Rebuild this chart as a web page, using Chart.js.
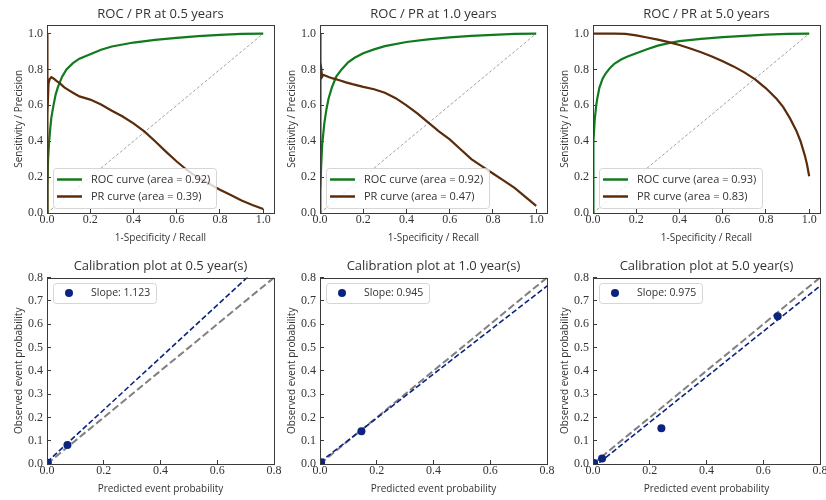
<!DOCTYPE html>
<html><head><meta charset="utf-8">
<script src="https://cdn.jsdelivr.net/npm/chart.js@4/dist/chart.umd.min.js"></script>
<style>
html,body{margin:0;padding:0;background:#fff;overflow:hidden;width:826px;height:500px}
#wrap{position:relative;width:826px;height:500px;overflow:hidden}
canvas{position:absolute}
</style></head>
<body><div id="wrap"></div>
<script>
// ---------------- data ----------------
const horizons = ['0.5', '1.0', '5.0'];
const rocAuc = ['0.92', '0.92', '0.93'];
const prAuc = ['0.39', '0.47', '0.83'];

const rocFpr05 = [0, 0.002, 0.005, 0.01, 0.015, 0.02, 0.03, 0.04, 0.05, 0.07, 0.09, 0.12, 0.15, 0.2, 0.25, 0.3, 0.4, 0.5, 0.6, 0.7, 0.8, 0.9, 1.0];
const rocTpr05 = [0, 0.15, 0.3, 0.4, 0.47, 0.53, 0.6, 0.66, 0.7, 0.76, 0.8, 0.835, 0.86, 0.885, 0.91, 0.928, 0.95, 0.965, 0.976, 0.986, 0.993, 0.998, 1.0];
const rocFpr10 = [0, 0.002, 0.005, 0.01, 0.02, 0.03, 0.04, 0.055, 0.075, 0.1, 0.13, 0.16, 0.2, 0.25, 0.3, 0.4, 0.5, 0.6, 0.7, 0.8, 0.9, 1.0];
const rocTpr10 = [0, 0.12, 0.25, 0.38, 0.5, 0.58, 0.64, 0.7, 0.76, 0.8, 0.84, 0.865, 0.89, 0.912, 0.93, 0.953, 0.968, 0.979, 0.987, 0.993, 0.998, 1.0];
const rocFpr50 = [0, 0.001, 0.003, 0.008, 0.015, 0.02, 0.03, 0.045, 0.06, 0.08, 0.1, 0.13, 0.16, 0.2, 0.25, 0.3, 0.35, 0.4, 0.5, 0.6, 0.7, 0.8, 0.9, 1.0];
const rocTpr50 = [0, 0.2, 0.4, 0.52, 0.6, 0.64, 0.7, 0.75, 0.78, 0.81, 0.833, 0.855, 0.872, 0.89, 0.913, 0.933, 0.947, 0.958, 0.97, 0.98, 0.987, 0.994, 0.998, 1.0];

const prRecall05 = [0, 0, 0.004, 0.007, 0.012, 0.02, 0.03, 0.045, 0.06, 0.08, 0.1, 0.12, 0.15, 0.2, 0.25, 0.3, 0.35, 0.4, 0.45, 0.5, 0.55, 0.6, 0.65, 0.7, 0.75, 0.8, 0.85, 0.9, 0.95, 1.0];
const prPrecision05 = [1.0, 0.0, 0.55, 0.72, 0.745, 0.757, 0.75, 0.735, 0.722, 0.7, 0.685, 0.67, 0.65, 0.632, 0.605, 0.57, 0.538, 0.5, 0.455, 0.4, 0.342, 0.287, 0.237, 0.196, 0.163, 0.13, 0.1, 0.07, 0.045, 0.022];
const prRecall10 = [0, 0, 0.002, 0.004, 0.007, 0.01, 0.015, 0.023, 0.04, 0.06, 0.09, 0.12, 0.15, 0.2, 0.25, 0.3, 0.35, 0.4, 0.45, 0.5, 0.55, 0.6, 0.65, 0.7, 0.75, 0.8, 0.85, 0.9, 0.95, 1.0];
const prPrecision10 = [1.0, 0.36, 0.8, 0.74, 0.79, 0.76, 0.77, 0.766, 0.758, 0.75, 0.74, 0.728, 0.718, 0.703, 0.69, 0.67, 0.64, 0.6, 0.555, 0.505, 0.455, 0.41, 0.355, 0.3, 0.26, 0.22, 0.18, 0.14, 0.09, 0.04];
const prRecall50 = [0, 0.05, 0.1, 0.15, 0.2, 0.25, 0.3, 0.35, 0.4, 0.45, 0.5, 0.55, 0.6, 0.65, 0.7, 0.75, 0.8, 0.85, 0.88, 0.91, 0.94, 0.96, 0.98, 0.99, 1.0];
const prPrecision50 = [1.0, 1.0, 1.0, 0.998, 0.99, 0.978, 0.966, 0.952, 0.936, 0.917, 0.896, 0.872, 0.846, 0.817, 0.784, 0.745, 0.695, 0.635, 0.59, 0.53, 0.46, 0.4, 0.32, 0.27, 0.205];

const calSlope = [1.123, 0.945, 0.975];
const calIntercept = [0.008, 0.008, -0.016];
const calPred05 = [0.003, 0.072];
const calObs05 = [0.005, 0.082];
const calPred10 = [0.004, 0.146];
const calObs10 = [0.007, 0.141];
const calPred50 = [0.004, 0.032, 0.241, 0.651];
const calObs50 = [0.004, 0.024, 0.153, 0.634];

const diagRef = [0, 1];
const rocTicks = [0, 0.2, 0.4, 0.6, 0.8, 1.0];
const calXTicks = [0, 0.2, 0.4, 0.6, 0.8];
const calYTicks = [0, 0.1, 0.2, 0.3, 0.4, 0.5, 0.6, 0.7, 0.8];

const rocFpr = [rocFpr05, rocFpr10, rocFpr50];
const rocTpr = [rocTpr05, rocTpr10, rocTpr50];
const prRecall = [prRecall05, prRecall10, prRecall50];
const prPrecision = [prPrecision05, prPrecision10, prPrecision50];
const calPred = [calPred05, calPred10, calPred50];
const calObs = [calObs05, calObs10, calObs50];

// ---------------- style ----------------
const sansFont = "'Open Sans', 'DejaVu Sans', sans-serif";
const serifFont = "'Liberation Serif', 'DejaVu Serif', serif";
const textColor = '#333333';
const green = '#127a1e';
const brown = '#5b2c0b';
const navy = '#0c2480';

Chart.defaults.font.family = sansFont;
Chart.defaults.color = textColor;

function pts(xs, ys) { return xs.map((x, i) => ({x: x, y: ys[i]})); }

function roundRectPath(ctx, x, y, w, h, r) {
  ctx.moveTo(x + r, y);
  ctx.lineTo(x + w - r, y); ctx.arcTo(x + w, y, x + w, y + r, r);
  ctx.lineTo(x + w, y + h - r); ctx.arcTo(x + w, y + h, x + w - r, y + h, r);
  ctx.lineTo(x + r, y + h); ctx.arcTo(x, y + h, x, y + h - r, r);
  ctx.lineTo(x, y + r); ctx.arcTo(x, y, x + r, y, r);
  ctx.closePath();
}

const framePlugin = {
  id: 'frame',
  afterDatasetsDraw(chart) {
    const {ctx, chartArea: a} = chart;
    ctx.save();
    ctx.strokeStyle = '#3a3a3a';
    ctx.lineWidth = 1;
    ctx.strokeRect(Math.round(a.left) + 0.5, Math.round(a.top) + 0.5,
      Math.round(a.right - a.left), Math.round(a.bottom - a.top));
    ctx.restore();
  }
};

const legendPlugin = {
  id: 'boxLegend',
  afterDatasetsDraw(chart, args, opts) {
    const items = chart.data.datasets.filter(d => d.legendRank !== undefined)
      .sort((p, q) => p.legendRank - q.legendRank);
    if (!items.length) return;
    const {ctx, chartArea: a} = chart;
    ctx.save();
    ctx.font = opts.fontSize + 'px ' + sansFont;
    const rowH = 17;
    const tw = Math.max.apply(null, items.map(d => ctx.measureText(d.label).width));
    const w = Math.round(38 + tw + 6);
    const h = Math.round(items.length * rowH + 2 * opts.padY);
    const x0 = Math.round(a.left) + 6;
    const y0 = opts.corner === 'lower' ? Math.round(a.bottom) - 5 - h : Math.round(a.top) + 5;
    ctx.beginPath();
    roundRectPath(ctx, x0 + 0.5, y0 + 0.5, w, h, 3);
    ctx.fillStyle = 'rgba(255,255,255,0.8)';
    ctx.fill();
    ctx.strokeStyle = 'rgba(204,204,204,0.8)';
    ctx.lineWidth = 1;
    ctx.stroke();
    items.forEach((d, i) => {
      const cy = y0 + opts.padY + rowH / 2 + i * rowH;
      if (d.legendKind === 'dot') {
        ctx.beginPath();
        ctx.arc(x0 + 16, cy, 4, 0, 2 * Math.PI);
        ctx.fillStyle = d.backgroundColor;
        ctx.fill();
      } else {
        ctx.beginPath();
        ctx.moveTo(x0 + 4, cy); ctx.lineTo(x0 + 29, cy);
        ctx.strokeStyle = d.borderColor;
        ctx.lineWidth = d.borderWidth + 0.3;
        ctx.stroke();
      }
      ctx.fillStyle = textColor;
      ctx.textBaseline = 'middle';
      ctx.textAlign = 'left';
      ctx.fillText(d.label, x0 + 38, cy);
    });
    ctx.restore();
  }
};

function axis(pos, max, ticks, title, size, titlePad) {
  return {
    type: 'linear', position: pos, min: 0, max: max,
    afterBuildTicks: s => { s.ticks = ticks.map(v => ({value: v})); },
    afterFit: s => { if (pos === 'left') s.width = size; else s.height = size; },
    ticks: {
      autoSkip: false, maxRotation: 0, minRotation: 0,
      padding: pos === 'left' ? 8 : 4,
      color: textColor,
      font: {family: serifFont, size: 12},
      callback: v => Number(v).toFixed(1)
    },
    grid: {drawOnChartArea: false, drawTicks: true, tickLength: -4, color: '#3a3a3a', lineWidth: 1},
    border: {display: false},
    title: {display: true, text: title, color: textColor, font: {family: sansFont, size: 10}, padding: titlePad}
  };
}

function addCanvas(left, top, w, h) {
  const c = document.createElement('canvas');
  c.width = w; c.height = h;
  c.style.left = left + 'px'; c.style.top = top + 'px';
  c.style.width = w + 'px'; c.style.height = h + 'px';
  document.getElementById('wrap').appendChild(c);
  return c;
}

const colLeft = [0, 273, 546];
const CW = 290, CH = 250;

function baseOptions(titleText, titlePad, xAxis, yAxis, legendOpts) {
  return {
    responsive: false, animation: false, devicePixelRatio: 1,
    layout: {padding: {left: 0, right: 16, top: 0, bottom: 0}},
    scales: {x: xAxis, y: yAxis},
    plugins: {
      legend: {display: false},
      tooltip: {enabled: false},
      title: {display: true, text: titleText, fullSize: false, color: textColor,
        font: {family: sansFont, size: 13, weight: 'normal'}, padding: titlePad},
      boxLegend: legendOpts
    }
  };
}

// ---------------- ROC / PR row ----------------
horizons.forEach((hz, i) => {
  const c = addCanvas(colLeft[i], 0, CW, CH);
  new Chart(c, {
    type: 'scatter',
    data: {datasets: [
      {label: 'PR curve (area = ' + prAuc[i] + ')', data: pts(prRecall[i], prPrecision[i]),
        borderColor: brown, backgroundColor: brown, borderWidth: 2.2, pointRadius: 0, showLine: true,
        order: 1, legendRank: 2, legendKind: 'line'},
      {label: 'ROC curve (area = ' + rocAuc[i] + ')', data: pts(rocFpr[i], rocTpr[i]),
        borderColor: green, backgroundColor: green, borderWidth: 2.2, pointRadius: 0, showLine: true,
        order: 2, legendRank: 1, legendKind: 'line'},
      {label: 'chance', data: pts(diagRef, diagRef), borderColor: '#8a8a8a', borderWidth: 0.8,
        borderDash: [3, 2], pointRadius: 0, showLine: true, order: 3}
    ]},
    options: baseOptions('ROC / PR at ' + hz + ' years', {top: 6, bottom: 3},
      axis('bottom', 1.05, rocTicks, '1-Specificity / Recall', 37, {top: 0, bottom: 6}),
      axis('left', 1.05, rocTicks, 'Sensitivity / Precision', 47, {top: 13, bottom: 0}),
      {corner: 'lower', padY: 3, fontSize: 11}),
    plugins: [framePlugin, legendPlugin]
  });
});

// ---------------- Calibration row ----------------
horizons.forEach((hz, i) => {
  const c = addCanvas(colLeft[i], 250, CW, CH);
  new Chart(c, {
    type: 'scatter',
    data: {datasets: [
      {label: 'Slope: ' + calSlope[i].toFixed(3), data: pts(calPred[i], calObs[i]),
        borderColor: navy, backgroundColor: navy, pointRadius: 4, pointBorderWidth: 0, showLine: false,
        order: 1, legendRank: 1, legendKind: 'dot'},
      {label: 'fit', data: diagRef.map(x => ({x: x, y: calIntercept[i] + calSlope[i] * x})),
        borderColor: navy, borderWidth: 1.6, borderDash: [5.5, 2.6], pointRadius: 0, showLine: true, order: 2},
      {label: 'ideal', data: pts(diagRef, diagRef), borderColor: '#808080', borderWidth: 2,
        borderDash: [7.4, 3.2], pointRadius: 0, showLine: true, order: 3}
    ]},
    options: baseOptions('Calibration plot at ' + hz + ' year(s)', {top: 8, bottom: 4},
      axis('bottom', 0.8, calXTicks, 'Predicted event probability', 36, {top: 0, bottom: 5}),
      axis('left', 0.8, calYTicks, 'Observed event probability', 47, {top: 13, bottom: 0}),
      {corner: 'upper', padY: 1.5, fontSize: 10.5}),
    plugins: [framePlugin, legendPlugin]
  });
});
</script>
</body></html>
